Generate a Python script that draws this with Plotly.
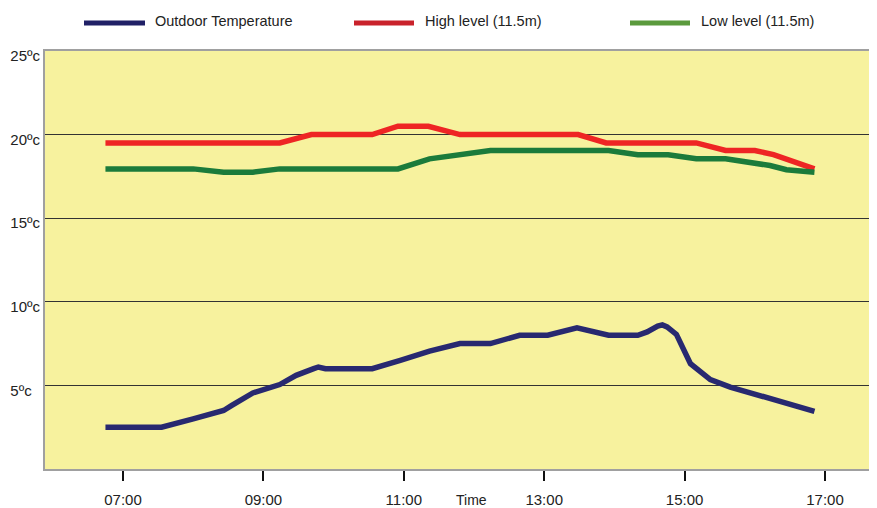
import plotly.graph_objects as go
import pandas as pd

DAY = "2024-01-01 "

outdoor_time = ["06:45", "07:33", "08:00", "08:26", "08:33", "08:46", "08:51", "09:14",
                "09:28", "09:43", "09:47", "09:53", "10:33", "10:57", "11:22", "11:48",
                "12:14", "12:39", "13:03", "13:28", "13:55", "14:20", "14:28", "14:37",
                "14:41", "14:45", "14:53", "15:05", "15:22", "15:39", "15:59", "16:24", "16:51"]
outdoor_temp = [2.5, 2.5, 3.0, 3.5, 3.8, 4.4, 4.55, 5.05,
                5.6, 6.0, 6.1, 6.0, 6.0, 6.5, 7.05, 7.5,
                7.5, 8.0, 8.0, 8.45, 8.0, 8.0, 8.2, 8.55,
                8.62, 8.5, 8.05, 6.3, 5.35, 4.9, 4.5, 3.95, 3.45]

high_time = ["06:45", "09:14", "09:41", "10:33", "10:55", "11:21", "11:48", "13:29",
             "13:53", "15:10", "15:35", "16:00", "16:16", "16:27", "16:51"]
high_temp = [19.5, 19.5, 20.0, 20.0, 20.5, 20.5, 20.0, 20.0,
             19.5, 19.5, 19.05, 19.05, 18.8, 18.55, 17.95]

low_time = ["06:45", "08:00", "08:26", "08:51", "09:14", "10:55", "11:22", "11:48",
            "12:14", "13:55", "14:20", "14:46", "15:10", "15:35", "16:13", "16:27", "16:51"]
low_temp = [17.95, 17.95, 17.75, 17.75, 17.95, 17.95, 18.55, 18.8,
            19.05, 19.05, 18.8, 18.8, 18.55, 18.55, 18.15, 17.9, 17.75]

series_names = ["Outdoor Temperature", "High level (11.5m)", "Low level (11.5m)"]
line_colors = ["#282970", "#ee2524", "#1b7b3b"]
legend_colors = ["#202066", "#c9222b", "#5b9a3d"]

x_ticks = ["07:00", "09:00", "11:00", "13:00", "15:00", "17:00"]
y_ticks = [5, 10, 15, 20, 25]
y_tick_text = ["5ºc\u00a0\u00a0", "10ºc", "15ºc", "20ºc", "25ºc"]


def to_dt(times):
    return pd.to_datetime([DAY + t for t in times])


FONT = "Liberation Sans, Arial, sans-serif"
TXT = "#222222"

fig = go.Figure()
for times, temps, name, col in [
    (outdoor_time, outdoor_temp, series_names[0], line_colors[0]),
    (high_time, high_temp, series_names[1], line_colors[1]),
    (low_time, low_temp, series_names[2], line_colors[2]),
]:
    fig.add_trace(go.Scatter(x=to_dt(times), y=temps, mode="lines", name=name,
                             line=dict(color=col, width=5.5), showlegend=False))

# page has an 8px default body margin: figure sits at (8, 8)
OFF = 8
PAGE_W, PAGE_H = 877, 508
W, H = PAGE_W - OFF, PAGE_H - OFF
# plot area in page pixels: x 45..874, y 51..469
PL, PR, PT, PB = 45, 874, 51, 469
L, R, T, B = PL - OFF, PAGE_W - PR, PT - OFF, PAGE_H - PB
pw, ph = PR - PL, PB - PT


def px(x):
    return (x - PL) / pw


def py(y):
    return (PB - y) / ph


# legend drawn by hand (page pixel positions)
legend_pos = [(84, 145, 153), (354, 414, 423), (630, 690, 699)]
for (x0, x1, xt), name, col in zip(legend_pos, series_names, legend_colors):
    fig.add_shape(type="line", xref="paper", yref="paper", x0=px(x0), x1=px(x1),
                  y0=py(23), y1=py(23), line=dict(color=col, width=5))
    fig.add_annotation(text=name, xref="paper", yref="paper", x=px(xt), y=py(21),
                       xanchor="left", yanchor="middle", showarrow=False,
                       font=dict(family=FONT, size=14.5, color=TXT))

fig.add_annotation(text="Time", xref="paper", yref="paper", x=px(471), y=py(500),
                   xanchor="center", yanchor="middle", showarrow=False,
                   font=dict(family=FONT, size=14, color=TXT))

fig.update_layout(
    width=W, height=H,
    margin=dict(l=L, r=R, t=T, b=B, autoexpand=False),
    paper_bgcolor="white",
    plot_bgcolor="#f7f29e",
    font=dict(family=FONT, size=15, color=TXT),
    xaxis=dict(
        type="date",
        automargin=False,
        range=[DAY + "05:53:20", DAY + "17:41:53"],
        tickvals=to_dt(x_ticks), ticktext=x_ticks,
        showgrid=False, zeroline=False,
        ticks="outside", ticklen=10, tickwidth=1.7, tickcolor="#111",
        showline=True, linecolor="#a0a0a0", linewidth=2, mirror=True,
        ticklabelstandoff=6,
        tickfont=dict(size=15),
    ),
    yaxis=dict(
        automargin=False,
        range=[0, 25],
        tickvals=y_ticks, ticktext=y_tick_text,
        showgrid=True, gridcolor="#333333", gridwidth=1,
        zeroline=False, ticks="",
        showline=True, linecolor="#a0a0a0", linewidth=2, mirror=True,
        ticklabelshift=5,
        tickfont=dict(size=15),
    ),
)

fig.write_html("out.html")
